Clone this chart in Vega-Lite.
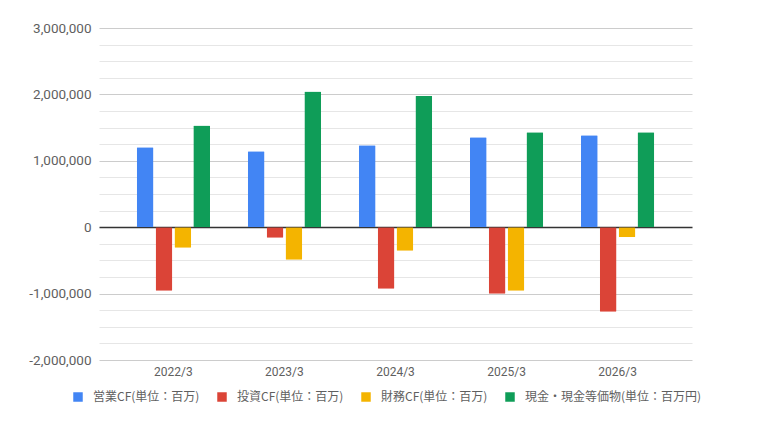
{
  "$schema": "https://vega.github.io/schema/vega-lite/v6.json",
  "autosize": "none",
  "width": 593,
  "height": 332,
  "padding": {"left": 99, "top": 28, "right": 77, "bottom": 66},
  "background": "white",
  "data": {
    "values": [
      {"period": "2022/3", "series": "営業CF(単位：百万)", "value": 1203000},
      {"period": "2022/3", "series": "投資CF(単位：百万)", "value": -958000},
      {"period": "2022/3", "series": "財務CF(単位：百万)", "value": -310000},
      {"period": "2022/3", "series": "現金・現金等価物(単位：百万円)", "value": 1530000},
      {"period": "2023/3", "series": "営業CF(単位：百万)", "value": 1143000},
      {"period": "2023/3", "series": "投資CF(単位：百万)", "value": -160000},
      {"period": "2023/3", "series": "財務CF(単位：百万)", "value": -490000},
      {"period": "2023/3", "series": "現金・現金等価物(単位：百万円)", "value": 2045000},
      {"period": "2024/3", "series": "営業CF(単位：百万)", "value": 1233000},
      {"period": "2024/3", "series": "投資CF(単位：百万)", "value": -927000},
      {"period": "2024/3", "series": "財務CF(単位：百万)", "value": -356000},
      {"period": "2024/3", "series": "現金・現金等価物(単位：百万円)", "value": 1980000},
      {"period": "2025/3", "series": "営業CF(単位：百万)", "value": 1353000},
      {"period": "2025/3", "series": "投資CF(単位：百万)", "value": -1003000},
      {"period": "2025/3", "series": "財務CF(単位：百万)", "value": -958000},
      {"period": "2025/3", "series": "現金・現金等価物(単位：百万円)", "value": 1429000},
      {"period": "2026/3", "series": "営業CF(単位：百万)", "value": 1383000},
      {"period": "2026/3", "series": "投資CF(単位：百万)", "value": -1273000},
      {"period": "2026/3", "series": "財務CF(単位：百万)", "value": -150000},
      {"period": "2026/3", "series": "現金・現金等価物(単位：百万円)", "value": 1429000}
    ]
  },
  "layer": [
    {
      "mark": {"type": "bar", "cornerRadius": 1},
      "encoding": {
        "x": {
          "field": "period", "type": "nominal", "title": null,
          "scale": {"paddingInner": 0, "paddingOuter": 0.17},
          "axis": {
            "domain": false, "ticks": false, "labelAngle": 0, "labelPadding": 6,
            "labelFont": "Roboto", "labelFontSize": 12, "labelColor": "#5f5f5f"
          }
        },
        "xOffset": {
          "field": "series", "type": "nominal",
          "sort": ["営業CF(単位：百万)", "投資CF(単位：百万)", "財務CF(単位：百万)", "現金・現金等価物(単位：百万円)"],
          "scale": {"paddingInner": 0.111, "paddingOuter": 1.14}
        },
        "y": {
          "field": "value", "type": "quantitative", "title": null,
          "scale": {"domain": [-2000000, 3000000], "nice": false},
          "axis": {
            "values": [-2000000, -1750000, -1500000, -1250000, -1000000, -750000, -500000, -250000, 0, 250000, 500000, 750000, 1000000, 1250000, 1500000, 1750000, 2000000, 2250000, 2500000, 2750000, 3000000],
            "labelExpr": "datum.value % 1000000 === 0 ? replace(format(datum.value, ','), '\u2212', '-') : ''",
            "domain": false, "ticks": false, "labelPadding": 8,
            "labelFont": "Roboto", "labelFontSize": 13.5, "labelColor": "#5f5f5f",
            "gridColor": {
              "condition": [
                {"test": "datum.value === 0", "value": "#333333"},
                {"test": "datum.value % 1000000 === 0", "value": "#cccccc"}
              ],
              "value": "#e6e6e6"
            },
            "gridWidth": {"condition": {"test": "datum.value === 0", "value": 1.3}, "value": 1}
          }
        },
        "color": {
          "field": "series", "type": "nominal", "title": null,
          "sort": ["営業CF(単位：百万)", "投資CF(単位：百万)", "財務CF(単位：百万)", "現金・現金等価物(単位：百万円)"],
          "scale": {"range": ["#4285F4", "#DB4437", "#F4B400", "#0F9D58"]},
          "legend": {
            "orient": "none", "direction": "horizontal", "legendX": -27, "legendY": 363,
            "symbolType": "square", "symbolSize": 90, "symbolStrokeWidth": 0,
            "labelFont": "Noto Sans CJK JP", "labelFontSize": 12, "labelColor": "#5f5f5f",
            "labelOffset": 9, "columnPadding": 16, "labelLimit": 300
          }
        }
      }
    }
  ],
  "config": {
    "view": {"stroke": null}
  }
}
